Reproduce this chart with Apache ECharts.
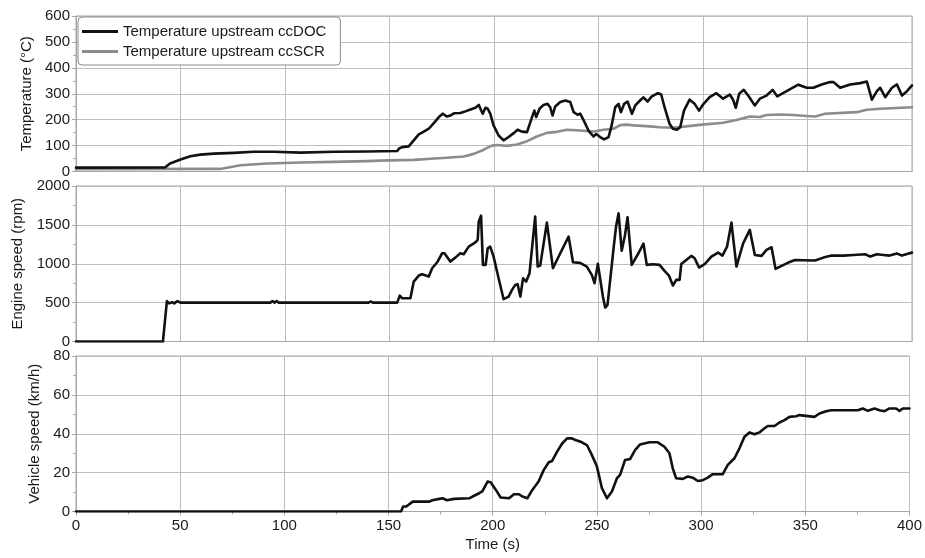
<!DOCTYPE html>
<html>
<head>
<meta charset="utf-8">
<script src="https://cdn.jsdelivr.net/npm/echarts@6/dist/echarts.min.js"></script>
<style>
  html, body { margin: 0; padding: 0; background: #fff; }
  #chart { width: 925px; height: 558px; }
</style>
</head>
<body>
<div id="chart"></div>
<script>
// Temperature upstream ccDOC (°C)
const docTime = [0, 42.7, 45, 50, 54.7, 59.5, 66, 75.5, 85, 94.7, 107.5, 123.5, 139.5, 153.7, 154.5, 156, 159.2, 161.6, 164, 166.4, 168.8, 171.2, 173.6, 175.5, 177.5, 179.1, 181, 183.9, 186.3, 188.4, 191.1, 192.7, 193.5, 194.6, 195.9, 197, 198.2, 199.8, 202.2, 204.6, 207, 209.4, 211.3, 213.4, 215.8, 218.2, 219.3, 220.2, 221.8, 223.7, 225.6, 226.9, 228, 229.3, 231.7, 234.1, 236.5, 238.1, 240, 241.2, 242.8, 245.2, 247.6, 248.9, 250.8, 252.7, 254.8, 256.1, 258, 259.6, 260.7, 262.3, 263.9, 266, 267.6, 270, 271.5, 273.5, 275.5, 278.4, 280, 281.6, 284, 285.6, 287.5, 289.1, 290.9, 293.6, 296, 298.1, 300.3, 303.2, 306.4, 309.6, 312.8, 314.4, 315.7, 317.3, 319.5, 321.6, 324.8, 327.2, 330.4, 333.3, 335.5, 340, 345.6, 349.6, 352.8, 356.8, 360.8, 362.4, 365.6, 370.4, 375.2, 378.4, 380.8, 383.2, 384.8, 387.2, 390.4, 392.8, 395.2, 397.6, 400];
const docTemp = [15, 16, 31, 46, 59, 65, 69, 72, 76, 76, 73, 76, 77, 79, 88, 94, 97, 120, 143, 154, 165, 187, 210, 223, 212, 216, 225, 226, 232, 238, 246, 257, 251, 223, 246, 242, 223, 178, 139, 120, 133, 148, 161, 154, 152, 210, 235, 210, 242, 257, 261, 248, 216, 251, 268, 274, 268, 229, 219, 223, 199, 158, 135, 145, 133, 124, 133, 171, 248, 261, 229, 261, 270, 223, 255, 275, 286, 270, 290, 302, 297, 248, 184, 165, 161, 171, 235, 277, 261, 235, 261, 287, 302, 281, 297, 277, 246, 300, 315, 293, 255, 281, 293, 315, 290, 310, 335, 323, 323, 336, 345, 345, 323, 336, 341, 347, 277, 310, 323, 287, 323, 336, 293, 310, 332];

// Temperature upstream ccSCR (°C)
const scrTime = [0, 69, 78.7, 91.5, 107.5, 123.5, 139.5, 145.7, 155.5, 161.6, 171.5, 177.5, 185.5, 190.3, 194.3, 196.7, 199, 201.5, 206.2, 211, 215.8, 220.5, 225.3, 230.1, 234.8, 241.2, 247.6, 252.4, 257.2, 260.4, 263.5, 266.7, 274.7, 279.2, 285.6, 292, 298.4, 309.6, 316, 322.4, 327.2, 330.4, 336.8, 343.2, 349.6, 353.6, 358.4, 368.8, 373.6, 378.4, 384.8, 400];
const scrTemp = [9, 10, 24, 31, 35, 37, 40, 42, 44, 45, 50, 53, 58, 68, 81, 91, 100, 102, 99, 104, 117, 135, 149, 153, 161, 158, 154, 161, 165, 179, 181, 178, 174, 171, 169, 174, 180, 188, 199, 212, 210, 218, 220, 218, 214, 212, 223, 227, 229, 238, 242, 248];

// Engine speed (rpm)
const rpmTime = [0, 41.6, 42.5, 43.5, 44.5, 46, 47, 48.5, 50, 70, 93, 94, 95, 96, 97, 140, 141, 142, 153.7, 154.9, 156, 160, 161.6, 164, 165.6, 168.8, 170.4, 172.8, 175.2, 176.3, 179.1, 181.5, 183.9, 185.5, 187.9, 191.1, 192.2, 192.7, 193.8, 194.7, 196, 197, 198.2, 199.8, 202.2, 204.6, 207, 208.6, 210.2, 211.3, 212.6, 213.9, 215.4, 217, 219.7, 220.9, 222.1, 225.3, 228.2, 231.7, 235.7, 237.8, 241.2, 244.4, 246.8, 248.1, 249.7, 252.1, 253.2, 254.3, 255.6, 257.2, 258.4, 259.6, 261.1, 262.7, 263.9, 265.9, 269.1, 271.5, 273.1, 276, 279.2, 281.6, 283.7, 285.6, 287.2, 288.8, 289.6, 292, 294.4, 296, 298.1, 300.8, 304, 307.2, 309.3, 311.5, 313.6, 316, 319.2, 322.4, 324.8, 328, 330.4, 332.8, 334.7, 337.6, 340.8, 344, 348, 353.6, 357.6, 361.6, 367.2, 372, 377.6, 380, 383.2, 386.4, 389.3, 392.8, 395.2, 397.6, 400];
const rpmValue = [0, 0, 250, 520, 490, 505, 490, 520, 500, 500, 500, 520, 500, 520, 500, 500, 515, 500, 500, 590, 557, 557, 771, 848, 865, 835, 942, 1019, 1135, 1135, 1028, 1079, 1135, 1122, 1220, 1276, 1306, 1542, 1619, 985, 985, 1199, 1220, 1092, 814, 544, 578, 664, 728, 737, 578, 814, 771, 878, 1606, 964, 976, 1529, 942, 1135, 1349, 1019, 1011, 964, 857, 750, 998, 578, 437, 471, 792, 1199, 1478, 1649, 1169, 1371, 1598, 985, 1135, 1260, 985, 994, 985, 908, 848, 720, 792, 792, 998, 1049, 1101, 1071, 951, 994, 1092, 1144, 1105, 1220, 1529, 964, 1263, 1435, 1113, 1101, 1178, 1212, 934, 972, 1015, 1049, 1045, 1041, 1079, 1105, 1105, 1113, 1122, 1092, 1122, 1113, 1105, 1131, 1105, 1126, 1143];

// Vehicle speed (km/h)
const speedTime = [0, 156, 157, 158.5, 161.6, 169.6, 171, 174.4, 176, 178, 181.5, 182.3, 188.7, 190.3, 193.5, 195, 197.5, 199, 201.5, 203.8, 207.8, 210.2, 212.6, 214.2, 216.6, 219, 222, 224.5, 226.9, 228.5, 230.9, 233.3, 235.7, 238, 239.6, 241.2, 242.8, 245.2, 247.6, 250, 252.4, 254.8, 257.2, 259.6, 261.1, 263.5, 265.9, 268.3, 270.7, 275.2, 279.2, 282.4, 284.8, 286.4, 288, 291.2, 293.6, 296, 298.4, 300.8, 303.2, 305.6, 310.4, 312.8, 316, 318.4, 320.8, 323.2, 325.6, 328, 330.4, 332, 335.2, 337.6, 340, 342.4, 345.6, 347.2, 348, 354.4, 356.8, 360, 362.4, 375.2, 377.6, 380, 383.2, 385.6, 388, 390.4, 393.6, 395.2, 396.8, 400];
const speedValue = [0, 0, 2.6, 2.6, 5.1, 5.1, 5.8, 6.5, 6.8, 5.8, 6.5, 6.8, 6.8, 7.7, 9.4, 10.3, 15.4, 15, 11.1, 7.2, 6.8, 8.9, 8.9, 7.7, 6.8, 11.1, 15.4, 21.4, 25.3, 26, 30.8, 35, 37.6, 37.6, 36.8, 36.3, 35.6, 34.2, 29, 23.1, 12, 6.8, 10.3, 17.1, 18.8, 26.5, 27, 31.6, 34.5, 35.6, 35.6, 33.3, 30, 22.2, 17.1, 16.8, 18, 17.4, 15.7, 16.1, 17.4, 19.2, 19.2, 24, 27.4, 32.5, 38.5, 40.7, 39.7, 40.7, 42.8, 44, 44, 45.8, 47, 48.7, 49, 49.6, 48.7, 48.7, 50.4, 51.6, 52.1, 52.1, 53, 51.8, 53, 52.1, 51.6, 53, 53, 51.8, 53, 53];

const seriesNames = ['Temperature upstream ccDOC', 'Temperature upstream ccSCR'];
const axisNames = ['Temperature (°C)', 'Engine speed (rpm)', 'Vehicle speed (km/h)'];
const xName = 'Time (s)';

const zip = (ts, vs) => ts.map((t, i) => [t, vs[i]]);

const FONT = '"Liberation Sans", Arial, sans-serif';
const TEXT = '#1a1a1a';
const GRID_LINE = '#bdbdbd';
const FRAME = '#a6a6a6';

const gridTops = [16, 186, 356];
const gridH = 155.5;

const grids = gridTops.map(top => ({
  left: 76, right: 13, top: top, height: gridH,
  show: true, borderColor: FRAME, borderWidth: 1, backgroundColor: 'transparent'
}));

const plain = v => String(v);

const xAxes = [0, 1, 2].map(i => {
  const last = i === 2;
  return {
    type: 'value', gridIndex: i, min: 0, max: 400, interval: 50,
    name: last ? xName : '', nameLocation: 'middle', nameGap: 26,
    nameTextStyle: { fontFamily: FONT, fontSize: 15, color: TEXT },
    axisLine: { show: true, onZero: false, lineStyle: { color: FRAME, width: 1 } },
    axisTick: { show: last, length: 4, lineStyle: { color: FRAME } },
    minorTick: { show: last, splitNumber: 2, length: 3, lineStyle: { color: FRAME } },
    axisLabel: { show: last, fontFamily: FONT, fontSize: 15, color: TEXT, margin: 7, formatter: plain },
    splitLine: { show: true, lineStyle: { color: GRID_LINE, width: 1 } }
  };
});

const yDefs = [
  { max: 600, interval: 100, gap: 42 },
  { max: 2000, interval: 500, gap: 49 },
  { max: 80, interval: 20, gap: 33 }
];

const yAxes = yDefs.map((d, i) => ({
  type: 'value', gridIndex: i, min: 0, max: d.max, interval: d.interval,
  name: axisNames[i], nameLocation: 'middle', nameGap: d.gap, nameRotate: 90,
  nameTextStyle: { fontFamily: FONT, fontSize: 15, color: TEXT },
  axisLine: { show: true, lineStyle: { color: FRAME, width: 1 } },
  axisTick: { show: true, length: 4, lineStyle: { color: FRAME } },
  minorTick: { show: true, splitNumber: 2, length: 3, lineStyle: { color: FRAME } },
  axisLabel: { fontFamily: FONT, fontSize: 15, color: TEXT, margin: 6, formatter: plain },
  splitLine: { show: true, lineStyle: { color: GRID_LINE, width: 1 } }
}));

const lineSeries = (name, data, axis, color, z) => ({
  name: name, type: 'line', xAxisIndex: axis, yAxisIndex: axis,
  data: data, symbol: 'none', showSymbol: false, z: z,
  lineStyle: { color: color, width: 2.6, join: 'round', cap: 'round' },
  itemStyle: { color: color },
  emphasis: { disabled: true }
});

const chart = echarts.init(document.getElementById('chart'), null, { renderer: 'canvas' });
chart.setOption({
  animation: false,
  backgroundColor: '#ffffff',
  grid: grids,
  xAxis: xAxes,
  yAxis: yAxes,
  legend: {
    data: seriesNames.map(n => ({ name: n, icon: 'rect' })),
    orient: 'vertical', left: 78, top: 17,
    padding: [7, 14, 6, 4], itemGap: 5, itemWidth: 36, itemHeight: 3,
    backgroundColor: '#ffffff', borderColor: '#8a8a8a', borderWidth: 1, borderRadius: 4,
    textStyle: { fontFamily: FONT, fontSize: 15, color: TEXT },
    selectedMode: false
  },
  series: [
    lineSeries(seriesNames[1], zip(scrTime, scrTemp), 0, '#8c8c8c', 2),
    lineSeries(seriesNames[0], zip(docTime, docTemp), 0, '#111111', 3),
    lineSeries('Engine speed', zip(rpmTime, rpmValue), 1, '#111111', 3),
    lineSeries('Vehicle speed', zip(speedTime, speedValue), 2, '#111111', 3)
  ]
});
</script>
</body>
</html>
